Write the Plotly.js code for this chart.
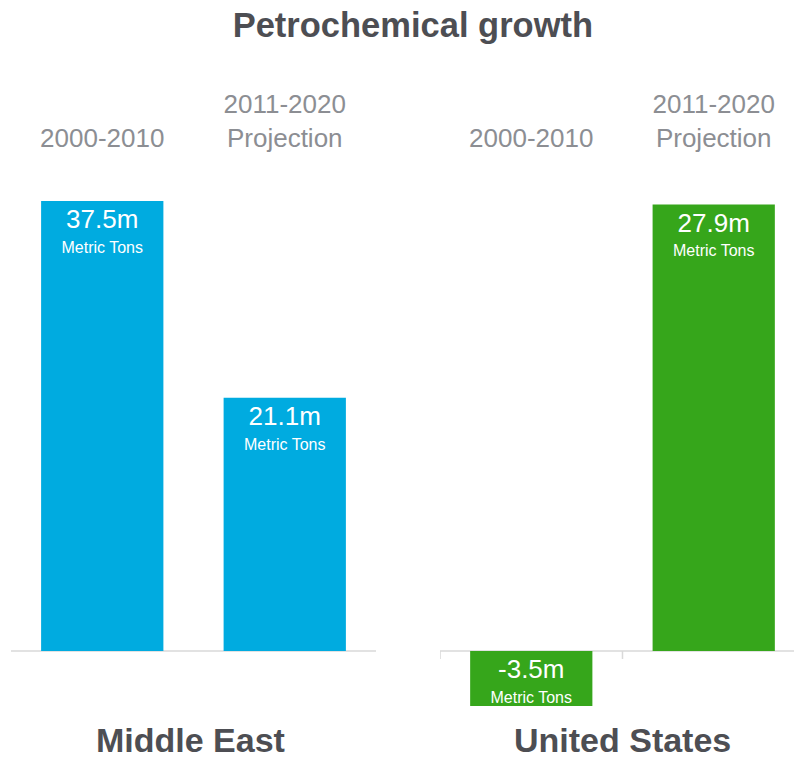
<!DOCTYPE html>
<html>
<head>
<meta charset="utf-8">
<script src="https://cdn.plot.ly/plotly-3.0.1.min.js"></script>
<style>
  html, body { margin: 0; padding: 0; background: #ffffff; }
  #chart { width: 794px; height: 758px; }
</style>
</head>
<body>
<div id="chart"></div>
<script>
// ---- Data ----
const categories = ['2000-2010', '2011-2020<br>Projection'];
const regions = ['Middle East', 'United States'];
const middleEast = [37.5, 21.1];
const unitedStates = [-3.5, 27.9];
const unitLabel = 'Metric Tons';
const chartTitle = 'Petrochemical growth';

// ---- Styles ----
const FONT = "Arial, 'Liberation Sans', Helvetica, sans-serif";
const colors = ['#00abe0', '#36a61b'];
const darkText = '#4d4e53';
const greyText = '#8c8e93';
const lineGrey = '#e2e2e2';

const seriesValues = [middleEast, unitedStates];
const traces = [];
seriesValues.forEach((vals, r) => {
  vals.forEach((v, i) => {
    traces.push({
      type: 'bar',
      x: [categories[i]],
      y: [v],
      text: [v.toFixed(1) + 'm'],
      texttemplate: "<span style='font-size:26px'>%{text}</span><br><span style='font-size:16px'>" + unitLabel + "</span>",
      textposition: 'inside',
      insidetextanchor: v < 0 ? 'start' : 'end',
      constraintext: 'none',
      textangle: 0,
      insidetextfont: { family: FONT, size: 19, color: '#ffffff' },
      marker: { color: colors[r], line: { width: 0 } },
      width: 0.67,
      xaxis: r === 0 ? 'x' : 'x2',
      yaxis: r === 0 ? 'y' : 'y2',
      hoverinfo: 'skip',
      cliponaxis: true
    });
  });
});

const yDomain = [0.0686, 0.7493];
const xAxisCommon = {
  type: 'category',
  side: 'top',
  showgrid: false,
  showline: false,
  zeroline: false,
  ticks: '',
  ticklabelstandoff: 37,
  tickfont: { family: FONT, size: 26, color: greyText },
  fixedrange: true
};
const yAxisCommon = {
  showgrid: false,
  showline: false,
  showticklabels: false,
  ticks: '',
  zeroline: true,
  zerolinecolor: lineGrey,
  zerolinewidth: 2,
  domain: yDomain,
  fixedrange: true
};

const layout = {
  width: 794,
  height: 758,
  margin: { l: 0, r: 0, t: 0, b: 0 },
  paper_bgcolor: '#ffffff',
  plot_bgcolor: 'rgba(0,0,0,0)',
  showlegend: false,
  barmode: 'overlay',
  title: {
    text: '<b>' + chartTitle + '</b>',
    font: { family: FONT, size: 34.5, color: darkText },
    x: 0.52, xanchor: 'center',
    y: 0.967, yanchor: 'middle', yref: 'container'
  },
  xaxis: Object.assign({}, xAxisCommon, { domain: [0.01385, 0.47355], anchor: 'y', range: [-0.5, 1.5] }),
  xaxis2: Object.assign({}, xAxisCommon, { domain: [0.5542, 1], anchor: 'y2', range: [-0.5, 1.44] }),
  yaxis: Object.assign({}, yAxisCommon, { anchor: 'x', range: [-4.583, 38.417] }),
  yaxis2: Object.assign({}, yAxisCommon, { anchor: 'x2', range: [-3.44, 28.81] }),
  shapes: [-0.5, 0.5, 1.5].map(b => ({
    type: 'line', xref: 'x2', yref: 'y2',
    ysizemode: 'pixel', yanchor: 0,
    x0: b, x1: b, y0: 0, y1: -8,
    line: { color: '#d9d9d9', width: 1.5 }
  })),
  annotations: [
    { text: '<b>' + regions[0] + '</b>', xref: 'x', x: 0.5, xshift: -3, yref: 'paper', y: 0, yshift: -2,
      xanchor: 'center', yanchor: 'bottom', showarrow: false, borderpad: 0,
      font: { family: FONT, size: 34, color: darkText } },
    { text: '<b>' + regions[1] + '</b>', xref: 'x2', x: 0.5, yref: 'paper', y: 0, yshift: -2,
      xanchor: 'center', yanchor: 'bottom', showarrow: false, borderpad: 0,
      font: { family: FONT, size: 34, color: darkText } }
  ]
};

Plotly.newPlot('chart', traces, layout, { displayModeBar: false, staticPlot: true });
</script>
</body>
</html>
